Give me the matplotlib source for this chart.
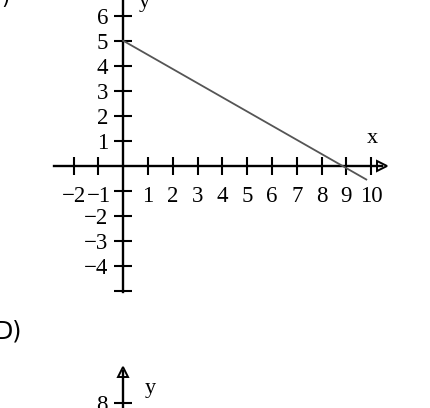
import numpy as np
import matplotlib
matplotlib.use('Agg')
import matplotlib.pyplot as plt

plt.rcParams['font.family'] = ['Liberation Serif', 'DejaVu Serif']

# graph data
line_x = [0, 9.8]
line_y = [5, -0.55]
x_ticks = [-2, -1, 1, 2, 3, 4, 5, 6, 7, 8, 9, 10]
x_labels = ['\u22122', '\u22121', '1', '2', '3', '4', '5', '6', '7', '8', '9', '10']
y_ticks = [-5, -4, -3, -2, -1, 1, 2, 3, 4, 5, 6]
y_labels = ['', '\u22124', '\u22123', '\u22122', '', '1', '2', '3', '4', '5', '6']
x_range = (-2.8, 10.45)
y_range = (-5.05, 7.0)

fig = plt.figure(figsize=(4.3, 4.08), dpi=100)
ax = fig.add_axes([0, 0, 1, 1])
ax.set_xlim(-4.97, 12.37)
ax.set_ylim(-9.69, 6.63)
ax.patch.set_alpha(0)

ax.plot(line_x, line_y, color='#555555', linewidth=1.3, zorder=3)

for s in ['top', 'right']:
    ax.spines[s].set_visible(False)
ax.spines['left'].set_position(('data', 0))
ax.spines['bottom'].set_position(('data', 0))
ax.spines['left'].set_bounds(*y_range)
ax.spines['bottom'].set_bounds(*x_range)
for s in ['left', 'bottom']:
    ax.spines[s].set_linewidth(1.7)

ax.set_xticks(x_ticks, x_labels)
ax.set_yticks(y_ticks, y_labels)
ax.tick_params(axis='both', direction='inout', length=13, width=1.5, labelsize=16.5)
ax.tick_params(axis='x', pad=8)
ax.tick_params(axis='y', pad=4.5)

# arrowhead on x axis
ax.plot(x_range[1], 0, marker='>', markersize=7, markerfacecolor='white',
        markeredgecolor='black', markeredgewidth=1.4, clip_on=False)
ax.text(10.05, 1.1, 'x', fontsize=16, ha='center', va='center')
ax.text(0.85, 6.55, 'y', fontsize=16, ha='center', va='center')

fig.text(0.003, 1.005, ')', fontsize=15, family='DejaVu Sans', va='center')
fig.text(-0.012, 0.188, 'D)', fontsize=17, family='DejaVu Sans', va='center')

# start of the next graph (D)
ax2 = fig.add_axes([0, 0, 1, 40 / 408])
ax2.set_xlim(-4.97, 12.37)
ax2.set_ylim(7.8, 9.4)
ax2.patch.set_alpha(0)
for s in ['top', 'right', 'bottom']:
    ax2.spines[s].set_visible(False)
ax2.spines['left'].set_position(('data', 0))
ax2.spines['left'].set_bounds(7.5, 9.3)
ax2.spines['left'].set_linewidth(1.7)
ax2.set_xticks([])
ax2.set_yticks([8], ['8'])
ax2.tick_params(axis='y', direction='inout', length=13, width=1.5, labelsize=16.5, pad=4.5)
ax2.plot(0, 9.25, marker='^', markersize=7, markerfacecolor='white',
         markeredgecolor='black', markeredgewidth=1.4, clip_on=False)
ax2.text(1.1, 8.6, 'y', fontsize=16, ha='center', va='center')

fig.savefig('out.png', dpi=100)
